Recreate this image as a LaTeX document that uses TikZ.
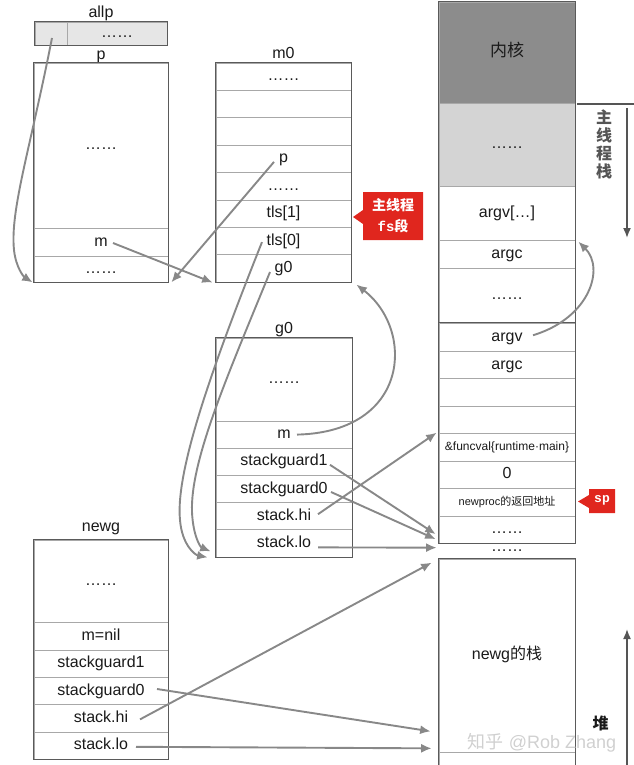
\documentclass[tikz,border=0pt]{standalone}
\usepackage{fontspec}
\setmainfont{Liberation Sans}
\newfontfamily\cjk{Noto Sans CJK SC}
\newfontfamily\monob{Liberation Mono}
\usetikzlibrary{arrows.meta}
\definecolor{rowc}{HTML}{A8A8A8}
\definecolor{bordc}{HTML}{5A5A5A}
\definecolor{arrc}{HTML}{888888}
\definecolor{kernc}{HTML}{8C8C8C}
\definecolor{lightg}{HTML}{D4D4D4}
\definecolor{allpc}{HTML}{E6E6E6}
\definecolor{redc}{RGB}{224,38,30}
\definecolor{txtc}{HTML}{1A1A1A}
\definecolor{darkl}{HTML}{555555}
\definecolor{wmc}{HTML}{D0D0D0}
\begin{document}
\begin{tikzpicture}[x=1pt,y=-1pt,
  cell/.style={draw=rowc, line width=0.7pt, inner sep=0pt, text=txtc,
    font=\fontsize{16}{19}\selectfont, text height=11.5pt, text depth=3.5pt},
  lbl/.style={inner sep=0pt, anchor=base, text=txtc, font=\fontsize{16}{19}\selectfont},
  border/.style={draw=bordc, line width=1.1pt},
  arr/.style={draw=arrc, line width=1.9pt, -{Latex[length=10.5pt,width=9pt]}},
  darkarr/.style={draw=darkl, line width=1.6pt},
  callout/.style={fill=redc},
  wbold/.style={text=white, inner sep=0pt, align=center}
]
\useasboundingbox (0,0) rectangle (633,765);

% ---------- allp ----------
\node[lbl] (allpL) at (101,17.5) {allp};
\node[cell, fill=allpc, minimum width=32pt, minimum height=23pt] (allp1) at (51,33.5) {};
\node[cell, fill=allpc, minimum width=100pt, minimum height=23pt] (allp2) at (117,33.5) {……};
\draw[border] (allp1.north west) rectangle (allp2.south east);

% ---------- p ----------
\node[lbl] (pL) at (101,60) {p};
\node[cell, minimum width=134pt, minimum height=165pt] (p1) at (101,145.5) {……};
\node[cell, minimum width=134pt, minimum height=28pt] (p2) at (101,242) {m};
\node[cell, minimum width=134pt, minimum height=26pt] (p3) at (101,269) {……};
\draw[border] (p1.north west) rectangle (p3.south east);

% ---------- m0 ----------
\node[lbl] (m0L) at (283.5,59) {m0};
\node[cell, minimum width=135pt, minimum height=27.4pt] (m0r1) at (283.5,76.7) {……};
\node[cell, minimum width=135pt, minimum height=27.4pt] (m0r2) at (283.5,104.1) {};
\node[cell, minimum width=135pt, minimum height=27.4pt] (m0r3) at (283.5,131.5) {};
\node[cell, minimum width=135pt, minimum height=27.4pt] (m0r4) at (283.5,158.9) {p};
\node[cell, minimum width=135pt, minimum height=27.4pt] (m0r5) at (283.5,186.3) {……};
\node[cell, minimum width=135pt, minimum height=27.4pt] (m0r6) at (283.5,213.7) {tls[1]};
\node[cell, minimum width=135pt, minimum height=27.4pt] (m0r7) at (283.5,241.1) {tls[0]};
\node[cell, minimum width=135pt, minimum height=27.4pt] (m0r8) at (283.5,268.5) {g0};
\draw[border] (m0r1.north west) rectangle (m0r8.south east);

% ---------- g0 ----------
\node[lbl] (g0L) at (284,333) {g0};
\node[cell, minimum width=136pt, minimum height=83pt] (g1) at (284,379.5) {……};
\node[cell, minimum width=136pt, minimum height=27.2pt] (g2) at (284,434.6) {m};
\node[cell, minimum width=136pt, minimum height=27.2pt] (g3) at (284,461.8) {stackguard1};
\node[cell, minimum width=136pt, minimum height=27.2pt] (g4) at (284,489) {stackguard0};
\node[cell, minimum width=136pt, minimum height=27.2pt] (g5) at (284,516.2) {stack.hi};
\node[cell, minimum width=136pt, minimum height=27.2pt] (g6) at (284,543.4) {stack.lo};
\draw[border] (g1.north west) rectangle (g6.south east);

% ---------- newg ----------
\node[lbl] (newgL) at (101,531) {newg};
\node[cell, minimum width=134pt, minimum height=82.5pt] (n1) at (101,581.25) {……};
\node[cell, minimum width=134pt, minimum height=27.4pt] (n2) at (101,636.2) {m=nil};
\node[cell, minimum width=134pt, minimum height=27.4pt] (n3) at (101,663.6) {stackguard1};
\node[cell, minimum width=134pt, minimum height=27.4pt] (n4) at (101,691) {stackguard0};
\node[cell, minimum width=134pt, minimum height=27.4pt] (n5) at (101,718.4) {stack.hi};
\node[cell, minimum width=134pt, minimum height=27.4pt] (n6) at (101,745.8) {stack.lo};
\draw[border] (n1.north west) rectangle (n6.south east);

% ---------- right column ----------
\node[cell, fill=kernc, minimum width=136pt, minimum height=101pt, font=\cjk\fontsize{17}{20}\selectfont] (k1) at (507,52.5) {内核};
\node[cell, fill=lightg, minimum width=136pt, minimum height=83pt] (k2) at (507,144.5) {……};
\node[cell, minimum width=136pt, minimum height=54pt] (k3) at (507,213) {argv[…]};
\node[cell, minimum width=136pt, minimum height=28pt] (k4) at (507,254) {argc};
\node[cell, minimum width=136pt, minimum height=55pt] (k5) at (507,295.5) {……};
\draw[border] (k1.north west) rectangle (k5.south east);

\node[cell, minimum width=136pt, minimum height=28.5pt] (s1) at (507,337.25) {argv};
\node[cell, minimum width=136pt, minimum height=27pt] (s2) at (507,365) {argc};
\node[cell, minimum width=136pt, minimum height=27.5pt] (s3) at (507,392.25) {};
\node[cell, minimum width=136pt, minimum height=27pt] (s4) at (507,419.5) {};
\node[cell, minimum width=136pt, minimum height=28pt, font=\fontsize{12}{14}\selectfont, text height=9pt, text depth=2.5pt] (s5) at (507,447) {\&funcval\{runtime·main\}};
\node[cell, minimum width=136pt, minimum height=27pt] (s6) at (507,474.5) {0};
\node[cell, minimum width=136pt, minimum height=28pt, font=\fontsize{11}{13}\selectfont, text height=8.5pt, text depth=2.5pt] (s7) at (507,502) {newproc{\cjk 的返回地址}};
\node[cell, minimum width=136pt, minimum height=27.3pt] (s8) at (507,529.65) {……};
\draw[border] (s1.north west) rectangle (s8.south east);

\node[cell, draw=none] (gapdots) at (507,547) {……};

\node[cell, minimum width=136pt, minimum height=193pt] (ns1) at (507,655.5) {newg{\cjk 的栈}};
\node[cell, minimum width=136pt, minimum height=16pt] (ns2) at (507,760) {};
\draw[border] (ns1.north west) rectangle (ns2.south east);

% ---------- side markers ----------
\draw[darkarr] (577,104) -- (636,104);
\draw[darkarr, -{Latex[length=10pt,width=8pt]}] (627,108) -- (627,238);
\node[text=darkl, inner sep=0pt, align=center, font=\cjk\bfseries\fontsize{16}{18}\selectfont] (mainstk) at (604,144) {主\\线\\程\\栈};

\draw[darkarr, -{Latex[length=10pt,width=8pt]}] (627,768) -- (627,629);
\node[text=txtc, inner sep=0pt, font=\cjk\bfseries\fontsize{16}{18}\selectfont] (heapL) at (600.5,723) {堆};

\node[text=wmc, inner sep=0pt, font=\fontsize{18}{20}\selectfont] (wm) at (542,743) {{\cjk 知乎} @Rob Zhang};

% ---------- callouts ----------
\fill[callout] (363,192) -- (423,192) -- (423,240) -- (363,240) -- (363,224) -- (353,217) -- (363,210) -- cycle;
\node[wbold, font=\cjk\bfseries\fontsize{14}{21}\selectfont] (fsL) at (393,216) {主线程\\{\monob\bfseries fs}段};

\fill[callout] (589,489) -- (615,489) -- (615,513) -- (589,513) -- (589,508) -- (578,501.5) -- (589,495) -- cycle;
\node[wbold, font=\monob\bfseries\fontsize{13}{15}\selectfont] (spL) at (602,500) {sp};

% ---------- arrows ----------
\draw[arr] ([shift={(1,4.5)}]allp1.center) .. controls (30,150) and (10,210) .. (14,250)
  .. controls (16,268) and (24,277) .. ([shift={(-1,0)}]p3.south west);
\draw[arr] ([shift={(12,1)}]p2.center) -- ([shift={(-3,0)}]m0r8.south west);
\draw[arr] ([shift={(-9.5,3)}]m0r4.center) -- ([shift={(3,0)}]p3.south east);
\draw[arr] ([shift={(-21.5,1)}]m0r7.center) .. controls (215,360) and (175,470) .. (180,520)
  .. controls (182,545) and (195,555) .. ([shift={(-8,0)}]g6.south west);
\draw[arr] ([shift={(-13.5,3.5)}]m0r8.center) .. controls (230,370) and (190,460) .. (192,512)
  .. controls (193,535) and (200,547) .. ([shift={(-5,-6)}]g6.south west);
\draw[arr] ([shift={(13,0)}]g2.center) .. controls (410,432) and (415,330) .. ([shift={(5,2)}]m0r8.south east);
\draw[arr] ([shift={(46,3)}]g3.center) -- ([shift={(-3,4.5)}]s8.west);
\draw[arr] ([shift={(47,3)}]g4.center) -- ([shift={(-3,-4.5)}]s8.south west);
\draw[arr] ([shift={(34,-2)}]g5.center) -- ([shift={(-2,0)}]s5.north west);
\draw[arr] ([shift={(34,4)}]g6.center) -- ([shift={(-2,4)}]s8.south west);
\draw[arr] ([shift={(26,-2)}]s1.center) .. controls (590,318) and (605,268) .. ([shift={(3,2)}]k4.north east);
\draw[arr] ([shift={(56,-2)}]n4.center) -- ([shift={(-8,-21)}]ns1.south west);
\draw[arr] ([shift={(39,1)}]n5.center) -- ([shift={(-7,4)}]ns1.north west);
\draw[arr] ([shift={(35,1)}]n6.center) -- ([shift={(-7,-4)}]ns1.south west);
\end{tikzpicture}
\end{document}
